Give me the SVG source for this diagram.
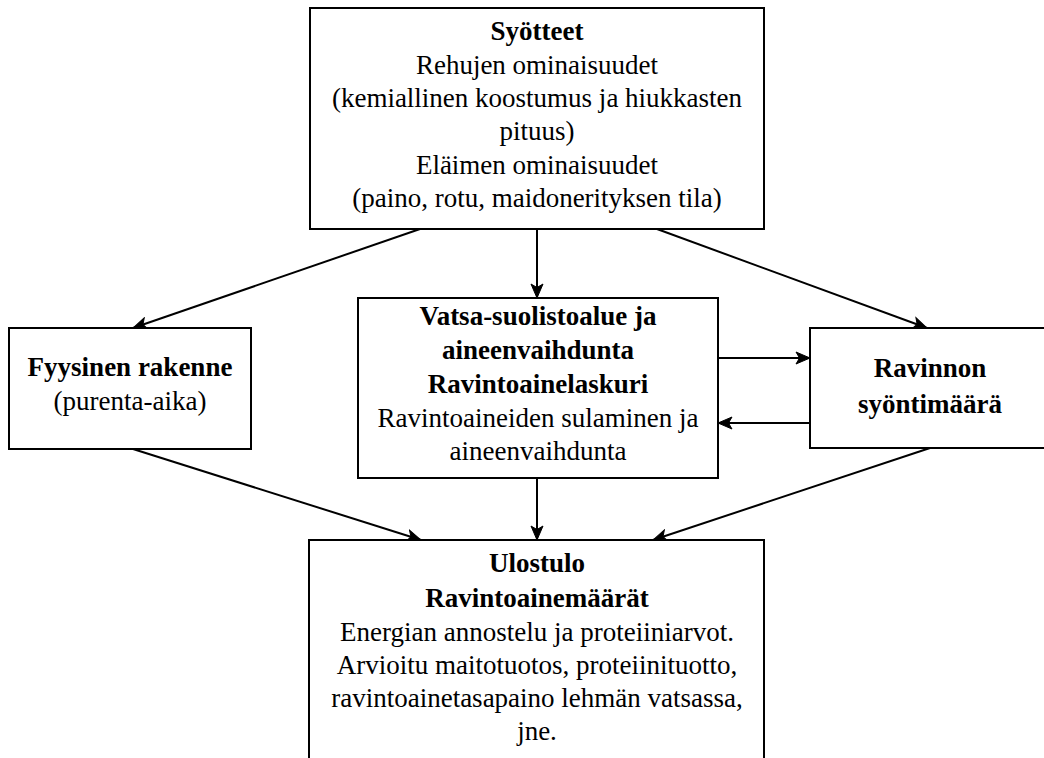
<svg xmlns="http://www.w3.org/2000/svg" width="1044" height="758" viewBox="0 0 1044 758">
  <style>
    .box { fill: #ffffff; stroke: #000000; stroke-width: 2; }
    .t { font-family: 'Times New Roman', Tinos, 'Liberation Serif', 'Noto Serif', 'DejaVu Serif', Georgia, serif; font-size: 27px; fill: #000000; text-anchor: middle; }
    .b { font-weight: bold; }
    .edge { fill: none; stroke: #000000; stroke-width: 2; marker-end: url(#arrow); }
  </style>
  <defs>
    <marker id="arrow" markerUnits="userSpaceOnUse" markerWidth="16" markerHeight="14" refX="15" refY="7" orient="auto">
      <path d="M1,1 L15,7 L1,13 L4.5,7 Z" fill="#000000" stroke="#000000" stroke-width="1"/>
    </marker>
  </defs>
  <rect width="1044" height="758" fill="#ffffff"/>

  <g id="connectors">
    <line class="edge" x1="420" y1="229" x2="133" y2="328"/>
    <line class="edge" x1="537" y1="229" x2="537" y2="298"/>
    <line class="edge" x1="657" y1="229" x2="927" y2="328"/>
    <line class="edge" x1="718" y1="358" x2="810" y2="358"/>
    <line class="edge" x1="810" y1="423" x2="718" y2="423"/>
    <line class="edge" x1="133" y1="449" x2="421" y2="540"/>
    <line class="edge" x1="537" y1="478" x2="537" y2="540"/>
    <line class="edge" x1="930" y1="448" x2="653" y2="540"/>
  </g>

  <g id="inputs">
    <rect class="box" x="310" y="8" width="454" height="221"/>
    <text class="t b" x="537" y="40">Syötteet</text>
    <text class="t" x="537" y="74">Rehujen ominaisuudet</text>
    <text class="t" x="537" y="107">(kemiallinen koostumus ja hiukkasten</text>
    <text class="t" x="537" y="140">pituus)</text>
    <text class="t" x="537" y="174">Eläimen ominaisuudet</text>
    <text class="t" x="537" y="207">(paino, rotu, maidonerityksen tila)</text>
  </g>

  <g id="physical-structure">
    <rect class="box" x="9" y="328" width="242" height="121"/>
    <text class="t b" x="130" y="376">Fyysinen rakenne</text>
    <text class="t" x="130" y="410">(purenta-aika)</text>
  </g>

  <g id="digestion">
    <rect class="box" x="358" y="298" width="360" height="180"/>
    <text class="t b" x="538" y="325">Vatsa-suolistoalue ja</text>
    <text class="t b" x="538" y="359">aineenvaihdunta</text>
    <text class="t b" x="538" y="393">Ravintoainelaskuri</text>
    <text class="t" x="538" y="427">Ravintoaineiden sulaminen ja</text>
    <text class="t" x="538" y="460">aineenvaihdunta</text>
  </g>

  <g id="intake">
    <rect class="box" x="810" y="328" width="250" height="120"/>
    <text class="t b" x="930" y="377">Ravinnon</text>
    <text class="t b" x="930" y="413">syöntimäärä</text>
  </g>

  <g id="output">
    <rect class="box" x="309" y="540" width="455" height="240"/>
    <text class="t b" x="537" y="572">Ulostulo</text>
    <text class="t b" x="537" y="607">Ravintoainemäärät</text>
    <text class="t" x="537" y="641">Energian annostelu ja proteiiniarvot.</text>
    <text class="t" x="537" y="674">Arvioitu maitotuotos, proteiinituotto,</text>
    <text class="t" x="537" y="707">ravintoainetasapaino lehmän vatsassa,</text>
    <text class="t" x="537" y="740">jne.</text>
  </g>
</svg>
